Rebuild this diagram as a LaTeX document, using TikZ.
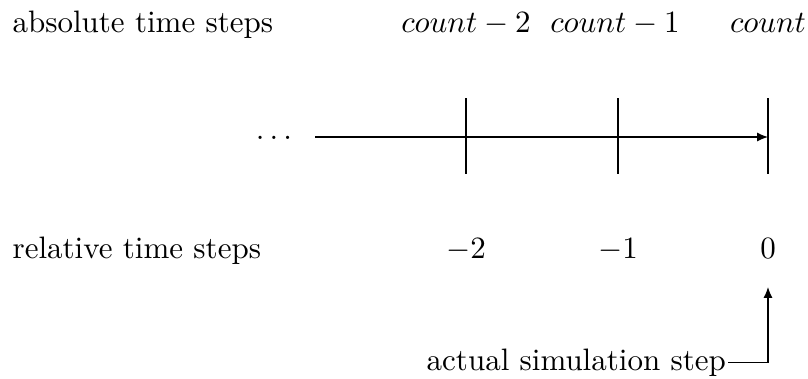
\documentclass[tikz,border=0pt]{standalone}
\usetikzlibrary{arrows.meta}
\begin{document}
\begin{tikzpicture}[x=0.3226pt,y=-0.3226pt,
  lbl/.style={anchor=base west,inner sep=0pt},
  toplbl/.style={anchor=base,inner sep=0pt},
  tick/.style={line width=0.4pt},
  arr/.style={-{Latex[length=3.5pt,width=2.9pt]},line width=0.4pt}]
\useasboundingbox (0,0) rectangle (808,378);
\node[lbl] (abs) at (12,32) {absolute time steps};
\node[lbl] (rel) at (12,258) {relative time steps};
\node[toplbl] (c2) at (466,32) {$count-2$};
\node[toplbl] (c1) at (615,32) {$count-1$};
\node[toplbl] (c0) at (768,32) {$count$};
\coordinate (t2a) at (466,98); \coordinate (t2b) at (466,174);
\coordinate (t1a) at (618,98); \coordinate (t1b) at (618,174);
\coordinate (t0a) at (768,98); \coordinate (t0b) at (768,174);
\draw[tick] (t2a) -- (t2b);
\draw[tick] (t1a) -- (t1b);
\draw[tick] (t0a) -- (t0b);
\node[anchor=base,inner sep=0pt] (dots) at (274,139) {$\dots$};
\coordinate (start) at (315,137);
\coordinate (end) at (768,137);
\draw[arr] (start) -- (end);
\node[toplbl] (r2) at (466,258) {$-2$};
\node[toplbl] (r1) at (618,258) {$-1$};
\node[toplbl] (r0) at (768,258) {$0$};
\node[anchor=base east,inner xsep=0.5pt,inner ysep=0pt] (act) at (728,370) {actual simulation step};
\coordinate (tip) at (768,287);
\draw[arr] (act.east) -| (tip);
\end{tikzpicture}
\end{document}
